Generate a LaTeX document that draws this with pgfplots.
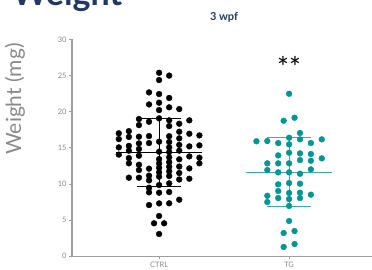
\documentclass[border=0pt]{standalone}
\usepackage{pgfplots}
\usepackage{pgfplotstable}
\pgfplotsset{compat=1.18}
\usepackage{fontspec}
\setmainfont{Lato}
\definecolor{tealdot}{HTML}{009696}
\definecolor{tealline}{HTML}{40A8A8}
\definecolor{navy}{HTML}{1F3864}
\definecolor{axgray}{HTML}{9E9E9E}
\definecolor{txtgray}{HTML}{8A8A8A}

\pgfplotstableread{
c v
-4 17.0
-4 16.2
-4 15.05
-4 14.05
-3 17.3
-3 16.5
-3 15.26
-3 14.59
-3 13.57
-3 12.84
-3 10.85
-2 18.98
-2 18.14
-2 16.53
-2 15.6
-2 14.82
-2 13.9
-2 12.65
-2 11.91
-2 10.85
-1 22.67
-1 21.0
-1 18.6
-1 16.62
-1 15.65
-1 12.1
-1 11.13
-1 10.48
-1 9.46
-1 8.82
-1 7.06
0 25.39
0 24.38
0 22.44
0 21.24
0 20.22
0 19.07
0 15.84
0 14.45
0 13.43
0 12.83
0 12.23
0 11.59
0 10.99
0 9.83
0 8.77
0 7.29
0 5.54
0 3.05
1 25.0
1 21.9
1 20.6
1 18.8
1 18.0
1 16.6
1 15.8
1 15.05
1 14.4
1 13.67
1 13.0
1 12.37
1 11.73
1 11.08
1 10.07
1 8.86
1 7.3
2 20.36
2 18.33
2 17.22
2 16.3
2 15.4
2 14.6
2 13.4
2 12.4
2 11.5
2 10.6
2 7.8
3 18.8
3 16.94
3 15.19
3 13.8
3 12.14
3 10.71
4 16.71
4 15.33
4 13.62
4 12.84
-0.5 4.53
0.5 4.53
}\ctrl

\pgfplotstableread{
c v
0 22.48
0 16.39
0 15.47
0 14.31
0 12.84
0 11.59
0 10.11
0 8.73
0 7.89
0 6.93
0 4.85
-0.5 18.74
0.5 19.16
-0.5 3.19
0.5 3.46
-0.5 1.25
0.5 1.66
1 17.04
1 16.16
1 14.22
1 13.30
1 11.4
1 10.02
1 8.77
1 8.03
-1 15.65
-1 13.94
-1 12.84
-1 11.59
-1 9.93
-1 9.0
-1 8.03
-2 15.93
-2 12.84
-2 11.91
-2 8.35
-2 7.48
-3 15.9
2 15.65
2 14.13
2 13.2
2 12.0
2 8.5
3 16.16
3 13.53
}\tg

\begin{document}
\begin{tikzpicture}[x=1pt,y=1pt]
\useasboundingbox (0,0) rectangle (372,270);
\node[anchor=base west, font=\fontsize{34}{34}\selectfont\bfseries, text=navy, inner sep=0] at (12,264.5) {Weight};
\node[font=\fontsize{11}{11}\selectfont\bfseries, text=navy] at (224,253) {3 wpf};
\node[rotate=90, font=\fontsize{21}{21}\selectfont, text=txtgray] at (15,171) {Weight (mg)};
\begin{axis}[
  at={(72pt,14pt)}, anchor=south west,
  scale only axis, width=304.2pt, height=216.5pt,
  xmin=-0.67, xmax=1.67, ymin=0, ymax=30,
  axis x line*=bottom, axis y line*=left,
  xtick={0,1}, xticklabels={CTRL,TG},
  ytick={0,5,...,30},
  tick align=outside, major tick length=3pt,
  tick style={axgray, line width=0.6pt},
  x axis line style={axgray, line width=0.8pt},
  y axis line style={axgray, line width=1.3pt},
  tick label style={font=\fontsize{7.5}{7.5}\selectfont, text=txtgray},
  yticklabel style={xshift=1pt},
  /pgf/number format/assume math mode=true,
  clip=false,
]
\addplot[only marks, mark=*, mark size=2.9pt, black] table[x expr=\thisrow{c}*0.0775, y=v] {\ctrl};
\addplot[only marks, mark=*, mark size=2.9pt, tealdot] table[x expr=1+\thisrow{c}*0.0838, y=v] {\tg};
\addplot[black, line width=0.9pt] coordinates {(-0.333,14.36) (0.333,14.36)};
\addplot[black, line width=0.9pt] coordinates {(0,9.70) (0,19.07)};
\addplot[black, line width=0.9pt] coordinates {(-0.17,19.07) (0.17,19.07)};
\addplot[black, line width=0.9pt] coordinates {(-0.17,9.70) (0.17,9.70)};
\addplot[tealline, line width=0.9pt] coordinates {(0.667,11.6) (1.333,11.6)};
\addplot[tealline, line width=0.9pt] coordinates {(1,6.93) (1,16.39)};
\addplot[tealline, line width=0.9pt] coordinates {(0.832,16.39) (1.168,16.39)};
\addplot[tealline, line width=0.9pt] coordinates {(0.832,6.93) (1.168,6.93)};
\node[font=\fontsize{28}{28}\selectfont, anchor=center] at (axis cs:1,26.2) {**};
\end{axis}
\end{tikzpicture}
\end{document}
